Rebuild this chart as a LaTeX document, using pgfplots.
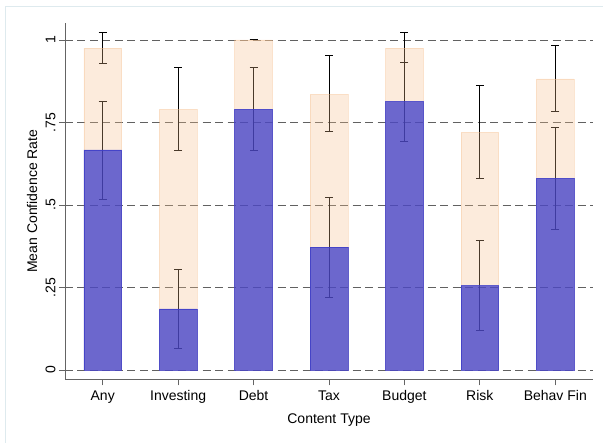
\documentclass[border=0pt]{standalone}
\usepackage{fontspec}
\setmainfont{Liberation Sans}
\usepackage{pgfplots}
\usepackage{pgfplotstable}
\pgfplotsset{compat=1.18}
\definecolor{peachc}{RGB}{245,190,140}
\definecolor{bluec}{RGB}{60,60,200}
\definecolor{axgray}{RGB}{100,100,100}
\definecolor{framec}{RGB}{222,234,238}

\pgfplotstableread{
x y ep em
0 0.975 0.048 0.046
1 0.790 0.126 0.126
2 1.000 0.000 0.000
3 0.835 0.117 0.113
4 0.975 0.048 0.043
5 0.720 0.141 0.139
6 0.882 0.101 0.099
}\peach

\pgfplotstableread{
x y ep em
0 0.667 0.148 0.150
1 0.185 0.121 0.119
2 0.790 0.126 0.126
3 0.372 0.150 0.151
4 0.813 0.119 0.121
5 0.255 0.137 0.134
6 0.581 0.153 0.154
}\blue

\begin{document}
\begin{tikzpicture}
\begin{axis}[
  scale only axis, width=528bp, height=356.3bp,
  xmin=-0.5, xmax=6.5, ymin=-0.0282, ymax=1.0515,
  axis x line=bottom, axis y line=left,
  axis line style={-, draw=axgray, line width=0.8bp},
  xtick={0,1,2,3,4,5,6},
  xticklabels={Any,Investing,Debt,Tax,Budget,Risk,Behav Fin},
  ytick={0,0.25,0.5,0.75,1},
  yticklabels={0,.25,.5,.75,1},
  tick align=outside, major tick length=6bp,
  tick style={draw=axgray, line width=0.8bp},
  ymajorgrids,
  grid style={draw=black!62, dash pattern=on 8bp off 4.5bp, line width=0.8bp},
  tick label style={font=\fontsize{14bp}{16bp}\selectfont},
  label style={font=\fontsize{14bp}{16bp}\selectfont},
  yticklabel style={rotate=90, anchor=south},
  xticklabel style={yshift=-2bp},
  xlabel={Content Type}, ylabel={Mean Confidence Rate},
  xlabel style={at={(axis description cs:0.5,0)}, anchor=center, yshift=-41bp},
  ylabel style={at={(axis description cs:0,0.5)}, anchor=center, yshift=33bp},
  clip=false,
]
\coordinate (O) at (rel axis cs:0,0);
% error bars (drawn under the translucent bars)
\addplot[draw=none, mark=none, forget plot,
  error bars/.cd, y dir=both, y explicit,
  error bar style={draw=black, line width=1bp},
  error mark options={draw=black, rotate=90, mark size=4bp, line width=1bp}]
  table[x=x, y=y, y error plus=ep, y error minus=em]{\peach};
\addplot[draw=none, mark=none, forget plot,
  error bars/.cd, y dir=both, y explicit,
  error bar style={draw=black, line width=1bp},
  error mark options={draw=black, rotate=90, mark size=4bp, line width=1bp}]
  table[x=x, y=y, y error plus=ep, y error minus=em]{\blue};
% bars
\addplot[ybar, bar width=0.5, bar shift=0pt, fill=peachc, fill opacity=0.3,
  draw=peachc, draw opacity=0.38, line width=0.7bp]
  table[x=x, y=y]{\peach};
\addplot[ybar, bar width=0.5, bar shift=0pt, fill=bluec, fill opacity=0.75,
  draw=bluec, draw opacity=0.8, line width=0.7bp]
  table[x=x, y=y]{\blue};
\end{axis}
\pgfresetboundingbox
\path[use as bounding box] (O) ++(-65bp,-63.7bp) coordinate (BL) rectangle ++(603bp,443bp);
\draw[framec, line width=0.8bp] (BL) ++(5.3bp,0) -- ++(0,436.3bp) -- ++(597.7bp,0);
\end{tikzpicture}
\end{document}
